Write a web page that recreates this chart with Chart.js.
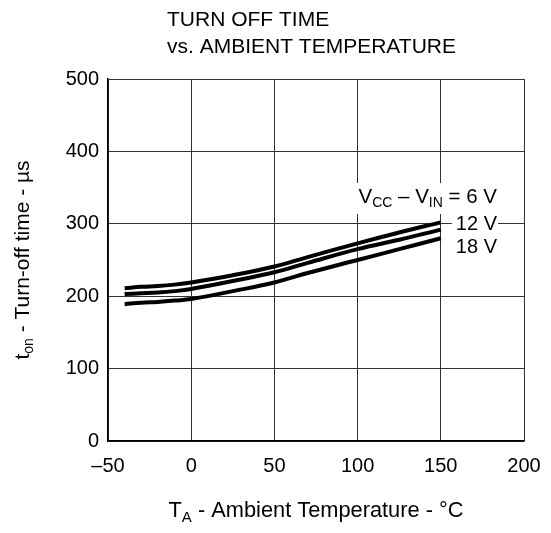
<!DOCTYPE html>
<html>
<head>
<meta charset="UTF-8">
<script src="https://cdn.jsdelivr.net/npm/chart.js@4.4.8/dist/chart.umd.min.js"></script>
<style>
  html, body { margin: 0; padding: 0; background: #fff; }
  #wrap { width: 551px; height: 533px; }
</style>
</head>
<body>
<div id="wrap"><canvas id="c" width="551" height="533"></canvas></div>
<script>
// temperature (°C)
const temps = [-40, -30, -20, -10, 0, 25, 50, 70, 100, 125, 150];
// turn-off time (µs) for each Vcc - Vin
const v6  = [211, 213, 214, 216, 219, 229, 241, 254, 273, 288, 302];
const v12 = [203, 204, 205, 207, 210, 221, 233, 246, 265, 278, 292];
const v18 = [189, 191, 192, 194, 196, 207, 219, 232, 250, 265, 280];
const xTicks = [-50, 0, 50, 100, 150, 200];
const yTicks = [0, 100, 200, 300, 400, 500];

const FONT = 'Liberation Sans, Arial, sans-serif';

function pts(ys) { return temps.map((t, i) => ({ x: t, y: ys[i] })); }

// draws text with subscripts; parts = [[text, isSub], ...]
function richText(ctx, parts, x, y, size) {
  let cx = x;
  parts.forEach(([t, sub]) => {
    ctx.font = (sub ? Math.round(size * 0.68) : size) + 'px ' + FONT;
    ctx.fillText(t, cx, sub ? y + size * 0.3 : y);
    cx += ctx.measureText(t).width;
  });
  return cx;
}
function richWidth(ctx, parts, size) {
  let w = 0;
  parts.forEach(([t, sub]) => {
    ctx.font = (sub ? Math.round(size * 0.68) : size) + 'px ' + FONT;
    w += ctx.measureText(t).width;
  });
  return w;
}

const labels = {
  id: 'labels',
  afterDraw(chart) {
    const ctx = chart.ctx;
    const xs = chart.scales.x, ys = chart.scales.y;
    ctx.save();
    ctx.fillStyle = '#000';
    ctx.textBaseline = 'middle';
    ctx.textAlign = 'left';
    ctx.font = '21px ' + FONT;
    ctx.fillText('TURN OFF TIME', 167, 20);
    ctx.fillText('vs. AMBIENT TEMPERATURE', 167, 47);

    // x axis title
    const xt = [['T', false], ['A', true], [' - Ambient Temperature - °C', false]];
    const xw = richWidth(ctx, xt, 21.8);
    richText(ctx, xt, (xs.left + xs.right) / 2 - xw / 2, 511, 21.8);

    // y axis title
    const yt = [['t', false], ['on', true], [' - Turn-off time - µs', false]];
    const yw = richWidth(ctx, yt, 21);
    ctx.save();
    ctx.translate(23, (ys.top + ys.bottom) / 2);
    ctx.rotate(-Math.PI / 2);
    richText(ctx, yt, -yw / 2, 0, 21);
    ctx.restore();

    // curve labels
    const l1 = [['V', false], ['CC', true], [' – V', false], ['IN', true], [' = 6 V', false]];
    const w1 = richWidth(ctx, l1, 20.5);
    const x1 = 497 - w1;
    ctx.fillStyle = '#fff';
    ctx.fillRect(x1 - 2, 183, w1 + 5, 31);
    ctx.fillStyle = '#000';
    richText(ctx, l1, x1, 197, 20.5);

    ctx.font = '20px ' + FONT;
    ctx.textAlign = 'right';
    const w2 = ctx.measureText('12 V').width;
    ctx.fillStyle = '#fff';
    ctx.fillRect(497 - w2 - 4, 215, w2 + 5, 18);
    ctx.fillStyle = '#000';
    ctx.fillText('12 V', 497, 224);
    ctx.fillText('18 V', 497, 247);
    ctx.restore();
  }
};

const line = (data) => ({
  data: pts(data),
  borderColor: '#000',
  borderWidth: 4,
  pointRadius: 0,
  tension: 0.4,
  fill: false
});

new Chart(document.getElementById('c'), {
  type: 'line',
  data: { datasets: [line(v6), line(v12), line(v18)] },
  options: {
    responsive: false,
    animation: false,
    layout: { padding: { top: 79, right: 27, left: 0, bottom: 0 } },
    plugins: { legend: { display: false }, tooltip: { enabled: false } },
    scales: {
      x: {
        type: 'linear', min: -50, max: 200,
        afterBuildTicks: s => { s.ticks = xTicks.map(v => ({ value: v })); },
        ticks: {
          color: '#000', font: { family: FONT, size: 20 }, padding: 13,
          callback: v => v < 0 ? '–' + Math.abs(v) : String(v)
        },
        grid: { color: '#333', lineWidth: 1, drawTicks: false },
        border: { color: '#000', width: 1.5 },
        afterFit: s => { s.height = 92; s.paddingLeft = 0; s.paddingRight = 0; }
      },
      y: {
        min: 0, max: 500,
        afterBuildTicks: s => { s.ticks = yTicks.map(v => ({ value: v })); },
        ticks: { color: '#000', font: { family: FONT, size: 20 }, padding: 9 },
        grid: { color: '#333', lineWidth: 1, drawTicks: false },
        border: { color: '#000', width: 1.5 },
        afterFit: s => { s.width = 108; s.paddingTop = 0; s.paddingBottom = 0; }
      }
    }
  },
  plugins: [labels]
});
</script>
</body>
</html>
